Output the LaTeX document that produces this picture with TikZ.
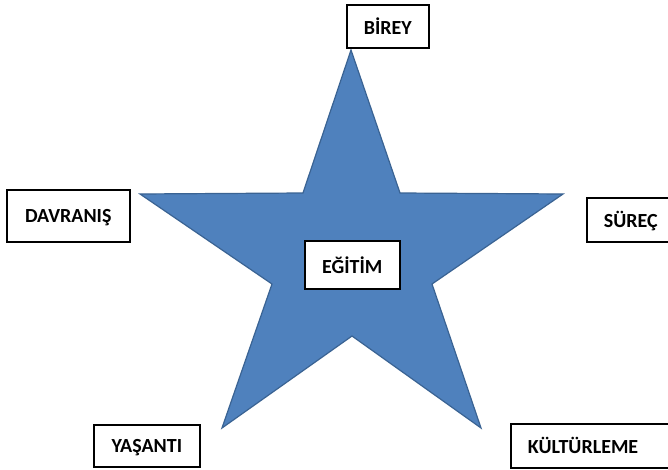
\documentclass[tikz,border=0pt]{standalone}
\usepackage{fontspec}
\setmainfont{Carlito}
\definecolor{starfill}{HTML}{4F81BD}
\definecolor{starline}{HTML}{3A6393}
\begin{document}
\begin{tikzpicture}[x=1pt,y=-1pt,
  lbl/.style={draw=black, line width=1.6pt, fill=white, rectangle, anchor=north west,
    inner sep=0pt, font=\fontsize{20}{22}\selectfont\bfseries, text depth=0pt}]
\clip (0,0) rectangle (668,470);
\fill[white] (0,0) rectangle (668,470);
\draw[fill=starfill, draw=starline, line width=1.2pt, line join=miter]
  (351,50) -- (400,193) -- (563,194) -- (432,284) -- (481,428) -- (352,336)
  -- (222,428) -- (272,284) -- (140,194) -- (303,193) -- cycle;
\node[lbl, minimum width=82pt, minimum height=43pt] (birey) at (346,4) {BİREY};
\node[lbl, minimum width=123pt, minimum height=52pt] (davranis) at (6,189) {DAVRANIŞ};
\node[lbl, minimum width=88pt, minimum height=44pt] (surec) at (586,197) {SÜREÇ};
\node[lbl, minimum width=95pt, minimum height=48pt] (egitim) at (304,240) {EĞİTİM};
\node[lbl, minimum width=106pt, minimum height=42pt] (yasanti) at (93,424) {YAŞANTI};
\node[lbl, minimum height=44pt, text width=150pt, align=left, inner xsep=17pt] (kulturleme) at (510,423) {KÜLTÜRLEME};
\end{tikzpicture}
\end{document}
